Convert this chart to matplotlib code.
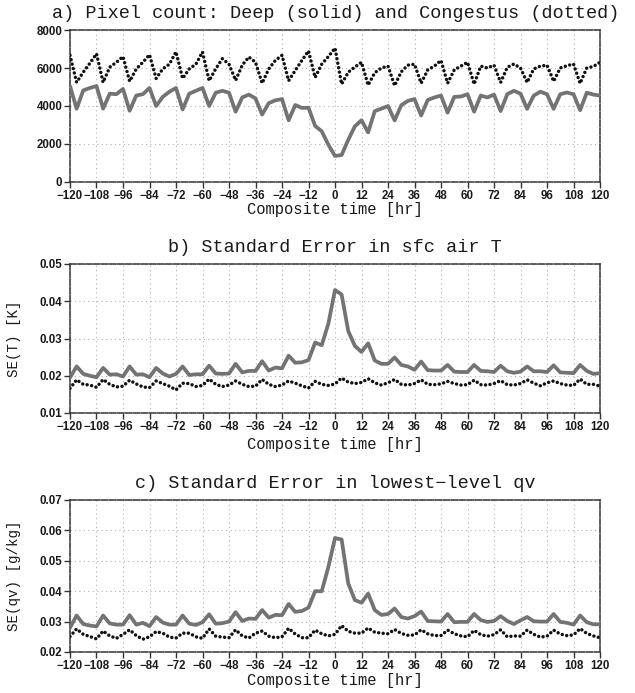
import matplotlib
matplotlib.use("Agg")
import matplotlib.pyplot as plt
from matplotlib.ticker import FixedLocator, FuncFormatter
from matplotlib.font_manager import FontProperties

# ---------------- data (3-hourly composite time) ----------------
time_hr = list(range(-120, 121, 3))
xticks = list(range(-120, 121, 12))

# a) pixel counts
deep_count = [5050, 3860, 4820, 4950, 5050, 3860, 4650, 4620, 4900, 3750,
              4550, 4620, 4950, 4000, 4480, 4750, 4950, 3820, 4650, 4800,
              4950, 4000, 4700, 4800, 4700, 3700, 4450, 4600, 4400, 3550,
              4150, 4300, 4360, 3250, 4050, 3900, 3910, 2950, 2670, 1960,
              1370, 1420, 2220, 2930, 3250, 2610, 3730, 3860, 4000, 3240,
              4040, 4270, 4360, 3500, 4320, 4450, 4550, 3650, 4480, 4500,
              4620, 3700, 4550, 4450, 4600, 3735, 4620, 4800, 4650, 3850,
              4550, 4750, 4620, 3850, 4620, 4710, 4620, 3780, 4700, 4600,
              4550]
cong_count = [6670, 5245, 5780, 6250, 6750, 5245, 6045, 6300, 6600, 5300,
              5950, 6300, 6700, 5450, 5950, 6200, 6850, 5450, 5950, 6200,
              6845, 5330, 5960, 6490, 6200, 5350, 6150, 6580, 6300, 5200,
              5950, 6400, 6670, 5330, 5870, 6400, 6900, 5500, 6200, 6600,
              7050, 5155, 5780, 6050, 6300, 5100, 5750, 6000, 6100, 5070,
              5800, 6150, 6200, 5200, 5900, 6100, 6400, 5200, 5900, 6100,
              6300, 5150, 6100, 6000, 6150, 5240, 6035, 6210, 6000, 5240,
              5950, 6100, 6150, 5300, 6000, 6120, 6210, 5190, 6000, 6080,
              6300]

# b) standard error in sfc air T [K]
se_t_deep = [0.0195, 0.0225, 0.0205, 0.0200, 0.0196, 0.0221, 0.0203, 0.0204, 0.0198, 0.0225,
             0.0203, 0.0204, 0.0196, 0.0221, 0.0206, 0.0198, 0.0205, 0.0225, 0.0202, 0.0204,
             0.0204, 0.0227, 0.0206, 0.0205, 0.0206, 0.0232, 0.0209, 0.0213, 0.0213, 0.0239,
             0.0214, 0.0222, 0.0220, 0.0254, 0.0235, 0.0236, 0.0242, 0.0289, 0.0282, 0.0340,
             0.0430, 0.0418, 0.0320, 0.0280, 0.0264, 0.0287, 0.0241, 0.0232, 0.0232, 0.0249,
             0.0229, 0.0225, 0.0216, 0.0238, 0.0215, 0.0214, 0.0214, 0.0229, 0.0211, 0.0210,
             0.0210, 0.0229, 0.0213, 0.0212, 0.0210, 0.0227, 0.0212, 0.0208, 0.0211, 0.0225,
             0.0212, 0.0212, 0.0210, 0.0228, 0.0209, 0.0208, 0.0207, 0.0229, 0.0213, 0.0205,
             0.0207]
se_t_cong = [0.0166, 0.0189, 0.0177, 0.0175, 0.0169, 0.0190, 0.0177, 0.0170, 0.0172, 0.0188,
             0.0178, 0.0170, 0.0168, 0.0186, 0.0179, 0.0172, 0.0162, 0.0180, 0.0179, 0.0171,
             0.0174, 0.0191, 0.0177, 0.0171, 0.0175, 0.0186, 0.0177, 0.0171, 0.0172, 0.0190,
             0.0177, 0.0171, 0.0175, 0.0186, 0.0180, 0.0173, 0.0167, 0.0185, 0.0177, 0.0174,
             0.0178, 0.0194, 0.0183, 0.0179, 0.0182, 0.0192, 0.0181, 0.0175, 0.0181, 0.0190,
             0.0177, 0.0175, 0.0179, 0.0189, 0.0177, 0.0176, 0.0178, 0.0185, 0.0179, 0.0175,
             0.0176, 0.0188, 0.0176, 0.0175, 0.0179, 0.0187, 0.0176, 0.0175, 0.0179, 0.0189,
             0.0180, 0.0173, 0.0181, 0.0186, 0.0179, 0.0175, 0.0174, 0.0191, 0.0177, 0.0177,
             0.0172]

# c) standard error in lowest-level qv [g/kg]
se_q_deep = [0.0280, 0.0320, 0.0292, 0.0287, 0.0284, 0.0320, 0.0294, 0.0290, 0.0290, 0.0321,
             0.0290, 0.0296, 0.0285, 0.0315, 0.0297, 0.0290, 0.0290, 0.0320, 0.0293, 0.0289,
             0.0298, 0.0324, 0.0293, 0.0295, 0.0300, 0.0331, 0.0302, 0.0310, 0.0309, 0.0338,
             0.0313, 0.0322, 0.0321, 0.0358, 0.0332, 0.0335, 0.0346, 0.0400, 0.0400, 0.0480,
             0.0575, 0.0570, 0.0425, 0.0371, 0.0362, 0.0392, 0.0338, 0.0322, 0.0325, 0.0343,
             0.0315, 0.0310, 0.0318, 0.0333, 0.0302, 0.0301, 0.0300, 0.0325, 0.0298, 0.0299,
             0.0299, 0.0325, 0.0305, 0.0299, 0.0302, 0.0318, 0.0302, 0.0292, 0.0304, 0.0315,
             0.0301, 0.0300, 0.0300, 0.0325, 0.0299, 0.0296, 0.0290, 0.0320, 0.0298, 0.0291,
             0.0291]
se_q_cong = [0.0251, 0.0276, 0.0258, 0.0251, 0.0243, 0.0269, 0.0253, 0.0245, 0.0258, 0.0273,
             0.0254, 0.0242, 0.0250, 0.0267, 0.0262, 0.0249, 0.0246, 0.0262, 0.0262, 0.0250,
             0.0245, 0.0276, 0.0252, 0.0249, 0.0247, 0.0273, 0.0253, 0.0246, 0.0262, 0.0269,
             0.0252, 0.0247, 0.0250, 0.0278, 0.0259, 0.0247, 0.0247, 0.0272, 0.0260, 0.0253,
             0.0258, 0.0287, 0.0268, 0.0262, 0.0262, 0.0279, 0.0265, 0.0262, 0.0260, 0.0274,
             0.0261, 0.0255, 0.0256, 0.0273, 0.0260, 0.0254, 0.0254, 0.0272, 0.0260, 0.0253,
             0.0250, 0.0271, 0.0257, 0.0252, 0.0257, 0.0273, 0.0250, 0.0253, 0.0252, 0.0272,
             0.0258, 0.0249, 0.0252, 0.0272, 0.0259, 0.0254, 0.0256, 0.0277, 0.0261, 0.0253,
             0.0247]

titles = ["a) Pixel count: Deep (solid) and Congestus (dotted)",
          "b) Standard Error in sfc air T",
          "c) Standard Error in lowest\u2212level qv"]
ylabels = [None, "SE(T) [K]", "SE(qv) [g/kg]"]
xlabel = "Composite time [hr]"
yticks_a = [0, 2000, 4000, 6000, 8000]
yticks_b = [0.01, 0.02, 0.03, 0.04, 0.05]
yticks_c = [0.02, 0.03, 0.04, 0.05, 0.06, 0.07]

# ---------------- figure ----------------
W, H = 635, 693
fig = plt.figure(figsize=(W / 100, H / 100), dpi=100)

SERIF = ["Liberation Mono", "DejaVu Sans Mono"]
TICKFP = FontProperties(family="Liberation Sans", weight="bold", size=8.3)

panels = [
    dict(top=30, bot=182, deep=deep_count, cong=cong_count, yt=yticks_a,
         fmt=lambda v, p: "%d" % v, title_y=13, xl_y=210),
    dict(top=264, bot=413, deep=se_t_deep, cong=se_t_cong, yt=yticks_b,
         fmt=lambda v, p: "%.2f" % v, title_y=247, xl_y=445),
    dict(top=500, bot=652, deep=se_q_deep, cong=se_q_cong, yt=yticks_c,
         fmt=lambda v, p: "%.2f" % v, title_y=483, xl_y=680),
]

left_px, right_px = 70, 600
for i, p in enumerate(panels):
    ax = fig.add_axes([left_px / W, 1 - p["bot"] / H,
                       (right_px - left_px) / W, (p["bot"] - p["top"]) / H])
    ax.plot(time_hr, p["deep"], color="#737373", lw=2.7, solid_joinstyle="round",
            solid_capstyle="round", zorder=3)
    ax.plot(time_hr, p["cong"], color="#111111", lw=2.5,
            linestyle=(0, (0.01, 1.3)), dash_capstyle="round", zorder=4)
    ax.set_xlim(-120, 120)
    ax.set_ylim(p["yt"][0], p["yt"][-1])
    ax.xaxis.set_major_locator(FixedLocator(xticks))
    ax.yaxis.set_major_locator(FixedLocator(p["yt"]))
    ax.xaxis.set_major_formatter(FuncFormatter(
        lambda v, pos: ("\u2212%d" % -v) if v < 0 else "%d" % v))
    ax.yaxis.set_major_formatter(FuncFormatter(p["fmt"]))
    for lab in ax.get_xticklabels() + ax.get_yticklabels():
        lab.set_fontproperties(TICKFP)
        lab.set_color("#1a1a1a")
    ax.tick_params(axis="both", direction="out", length=4, width=1.0,
                   color="#333333", pad=1.5)
    ax.grid(True, color="#b0b0b0", linestyle=(0, (1, 3)), linewidth=0.8, zorder=0)
    for s in ax.spines.values():
        s.set_color("#333333")
        s.set_linestyle((0, (4, 1.2)))
        s.set_linewidth(1.1)
    fig.text(0.528, 1 - p["title_y"] / H, titles[i], ha="center", va="center",
             family=SERIF, fontsize=13.3, color="#1a1a1a")
    fig.text((left_px + right_px) / 2 / W, 1 - p["xl_y"] / H, xlabel,
             ha="center", va="center", family=SERIF, fontsize=11.2, color="#1a1a1a")
    if ylabels[i]:
        fig.text(14 / W, 1 - (p["top"] + p["bot"]) / 2 / H, ylabels[i],
                 ha="center", va="center", rotation=90, family=SERIF,
                 fontsize=10.2, color="#1a1a1a")

fig.savefig("out.png", dpi=100, facecolor="white")
